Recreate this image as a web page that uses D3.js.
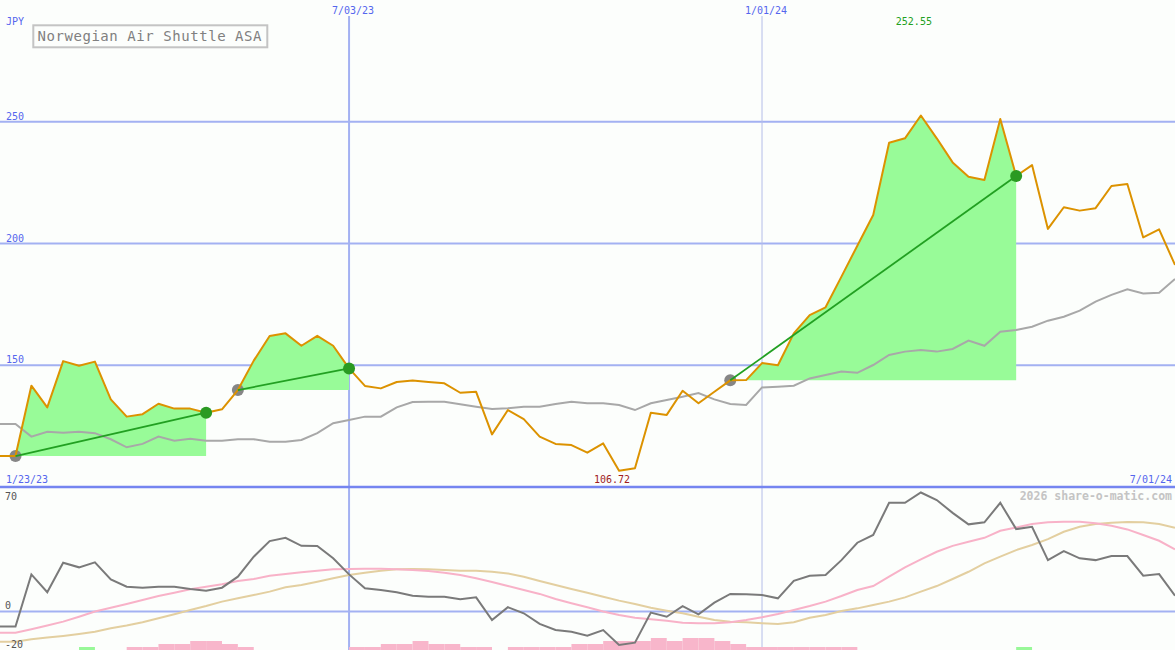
<!DOCTYPE html>
<html><head><meta charset="utf-8">
<script src="https://cdn.jsdelivr.net/npm/d3@7"></script>
<style>html,body{margin:0;padding:0;background:#fcfefc;}svg{display:block;}</style>
</head><body>
<svg id="c" width="1175" height="650"></svg>
<script>
const title = "Norwegian Air Shuttle ASA";
const currency = "JPY";
const price = [112.7,141.6,132.7,151.7,149.8,151.5,136.0,128.9,129.9,134.2,
132.2,132.2,130.5,131.9,139.8,151.9,162.0,163.1,158.0,162.1,
158.0,148.7,141.5,140.5,143.1,143.7,143.1,142.6,138.7,139.1,
121.6,131.6,127.9,120.7,117.7,117.2,114.1,117.9,106.72,107.7,
130.5,129.6,139.5,134.4,139.1,143.8,143.9,150.9,150.0,163.1,
170.6,173.8,186.4,199.1,211.7,241.4,243.2,252.55,243.2,233.3,
227.4,226.1,251.1,227.7,232.2,206.0,214.9,213.5,214.5,223.6,
224.4,202.5,205.8,191.2];
const avg = [125.9,120.7,122.7,122.3,122.7,122.1,119.6,116.3,117.7,120.7,
119.0,119.8,119.0,119.0,119.6,119.6,118.6,118.6,119.3,122.1,
126.2,127.5,128.9,128.9,132.7,134.9,135.0,135.0,134.0,133.0,
132.0,132.3,133.0,133.0,134.1,135.0,134.4,134.4,133.7,131.6,
134.4,135.7,137.1,138.6,136.0,134.1,133.7,140.9,141.2,141.6,
144.6,146.0,147.4,146.9,150.1,154.2,155.6,156.3,155.6,156.7,
160.1,158.0,163.8,164.5,165.8,168.3,169.9,172.4,176.1,178.9,
181.2,179.5,179.8,185.4];
const osc = [-9.2,22.6,11.7,29.7,26.9,29.9,19.6,15.1,14.5,15.1,
15.1,13.7,12.7,14.5,21.2,33.4,42.9,44.9,40.0,39.9,
32.4,22.6,14.1,13.1,11.7,9.6,9.0,9.0,7.4,8.6,
-5.2,2.6,-1.1,-7.6,-11.3,-12.3,-14.7,-11.3,-20.4,-19.0,
-0.7,-3.2,3.3,-1.7,5.4,10.7,10.5,10.0,8.0,18.7,
21.8,22.2,31.3,41.9,46.6,66.2,66.2,72.5,67.9,60.1,
53.1,54.3,66.2,50.2,51.6,31.3,36.8,32.4,31.3,33.8,
33.8,21.8,22.8,9.6];
const sigFast = [-12.9,-10.8,-8.6,-6.2,-3.2,0,2.3,4.6,7.0,9.4,
11.4,13.5,15.1,16.6,18.6,19.8,21.8,22.8,23.9,24.8,
25.7,25.9,26.0,26.0,25.7,25.3,24.6,23.6,22.2,20.2,
18.0,15.5,13.1,10.7,7.6,5.0,2.6,0,-2.1,-3.8,
-4.8,-5.6,-6.8,-7.2,-7.2,-6.6,-5.2,-3.5,-1.5,0.9,
3.3,6.0,9.4,13.1,15.5,21.2,26.9,31.8,36.4,40.0,
42.5,44.9,49.2,51.2,53.3,54.3,54.7,54.7,53.7,52.2,
50.0,46.6,43.1,37.9];
const sigSlow = [-18.4,-16.9,-15.9,-14.9,-13.7,-12.3,-10.2,-8.6,-6.6,-4.1,
-1.7,0.9,3.3,6.0,8.0,10.0,12.1,14.7,16.1,18.1,
20.2,22.2,23.6,24.8,25.7,25.9,25.7,25.3,24.8,24.8,
24.2,23.2,21.2,18.6,16.1,13.7,11.4,9.0,6.6,4.6,
2.3,0.5,-1.1,-3.2,-5.2,-6.2,-6.6,-7.2,-7.6,-6.6,
-3.8,-2.1,0.3,1.9,4.0,6.0,8.6,12.1,15.5,19.8,
24.2,29.3,33.4,37.4,40.5,44.1,48.6,51.6,53.3,54.1,
54.5,54.3,53.3,51.0];
const hist = [0,0,0,0,1,0,0,-1,-1,-2,
-2,-3,-3,-2,-1,0,0,0,0,0,
0,-1,-1,-2,-2,-3,-2,-2,-1,-1,
0,-1,-1,-1,-1,-2,-2,-3,-3,-3,
-4,-3,-4,-4,-3,-2,-1,-1,-1,-1,
-1,-1,-1,0,0,0,0,0,0,0,
0,0,0,1,0,0,0,0,0,0,
0,0,0,0];
const trades = [{buy:0, sell:12},{buy:14, sell:21},{buy:45, sell:63}];
const priceGrid = [150, 200, 250];
const topTickIdx = [21, 47];
const topTickLabels = ["7/03/23", "1/01/24"];
const bottomTickLabels = ["1/23/23", "7/01/24"];
const oscTicks = [70, 0, -20];
const copyright = "2026 share-o-matic.com";

const W = 1175, H = 650;
const svg = d3.select("#c");
const n = price.length;
const x = d3.scaleLinear().domain([0, n - 1]).range([15.5, W]);
const yP = d3.scaleLinear().domain([100, 300]).range([487, 0]);
const yO = d3.scaleLinear().domain([-20, 70]).range([644.3, 496.6]);
const yH = d3.scaleLinear().domain([0, 4]).range([H, H - 12]);
const mono = "'DejaVu Sans Mono', 'Liberation Mono', monospace";
const gridC = "#a3b1f2", labC = "#5566ee";

// lead-in from the left edge to the first point
function withLead(arr) {
  const pts = arr.map((v, i) => [i, v]);
  return [[x.invert(0), arr[0]]].concat(pts);
}

// grids
svg.selectAll(".hg").data(priceGrid).join("line")
  .attr("x1", 0).attr("x2", W).attr("y1", d => yP(d)).attr("y2", d => yP(d))
  .attr("stroke", gridC).attr("stroke-width", 2);
svg.append("line").attr("x1", 0).attr("x2", W).attr("y1", yO(0)).attr("y2", yO(0))
  .attr("stroke", gridC).attr("stroke-width", 2);
svg.selectAll(".vg").data(topTickIdx).join("line")
  .attr("x1", d => x(d)).attr("x2", d => x(d)).attr("y1", 16).attr("y2", H)
  .attr("stroke", (d, i) => i === 0 ? gridC : "#b4bde8")
  .attr("stroke-width", (d, i) => i === 0 ? 2 : 1);
svg.append("line").attr("x1", 0).attr("x2", W).attr("y1", yP(100)).attr("y2", yP(100))
  .attr("stroke", "#7585f0").attr("stroke-width", 2.5);

// fills for trades
trades.forEach(t => {
  const seg = d3.range(t.buy, t.sell + 1);
  const base = price[t.buy];
  svg.append("path").datum(seg)
    .attr("d", d3.area().x(i => x(i)).y0(yP(base)).y1(i => yP(price[i])))
    .attr("fill", "#98fb98");
});

// price panel lines
const lineP = d3.line().x(d => x(d[0])).y(d => yP(d[1]));
svg.append("path").datum(withLead(avg)).attr("d", lineP)
  .attr("fill", "none").attr("stroke", "#a8a8a8").attr("stroke-width", 2);
svg.selectAll(".bd").data(trades).join("circle")
  .attr("cx", d => x(d.buy)).attr("cy", d => yP(price[d.buy])).attr("r", 6)
  .attr("fill", "#868686");
svg.append("path").datum(withLead(price)).attr("d", lineP)
  .attr("fill", "none").attr("stroke", "#dc9200").attr("stroke-width", 2)
  .attr("stroke-linejoin", "round");
svg.selectAll(".tl").data(trades).join("line")
  .attr("x1", d => x(d.buy)).attr("y1", d => yP(price[d.buy]))
  .attr("x2", d => x(d.sell)).attr("y2", d => yP(price[d.sell]))
  .attr("stroke", "#22a022").attr("stroke-width", 1.8);
svg.selectAll(".sd").data(trades).join("circle")
  .attr("cx", d => x(d.sell)).attr("cy", d => yP(price[d.sell])).attr("r", 6)
  .attr("fill", "#2a9a22");

// oscillator panel
svg.selectAll(".hb").data(hist.map((v, i) => [i, v]).filter(d => d[1] !== 0)).join("rect")
  .attr("x", d => x(d[0])).attr("width", d => x(d[0] + 1) - x(d[0]))
  .attr("y", d => yH(Math.abs(d[1]))).attr("height", d => H - yH(Math.abs(d[1])))
  .attr("fill", d => d[1] > 0 ? "#98f898" : "#f8b6cb");
const lineO = d3.line().x(d => x(d[0])).y(d => yO(d[1]));
svg.append("path").datum(withLead(sigSlow)).attr("d", lineO)
  .attr("fill", "none").attr("stroke", "#e3cfa0").attr("stroke-width", 2);
svg.append("path").datum(withLead(sigFast)).attr("d", lineO)
  .attr("fill", "none").attr("stroke", "#f8b2c8").attr("stroke-width", 2);
svg.append("path").datum(withLead(osc)).attr("d", lineO)
  .attr("fill", "none").attr("stroke", "#7a7a7a").attr("stroke-width", 2);

// labels
const txt = (s, xx, yy, col, anchor, size) => svg.append("text").text(s)
  .attr("x", xx).attr("y", yy).attr("fill", col).attr("text-anchor", anchor || "start")
  .attr("font-family", mono).attr("font-size", size || 10);
txt(currency, 6, 25, labC);
priceGrid.forEach(v => txt(String(v), 6, yP(v) - 2, labC));
topTickIdx.forEach((d, i) => txt(topTickLabels[i], x(d) + 4, 14, labC, "middle"));
txt(bottomTickLabels[0], 6, 483, labC);
txt(bottomTickLabels[1], 1172, 483, labC, "end");
const iMax = d3.maxIndex(price), iMin = d3.minIndex(price);
txt(d3.format(".2f")(price[iMax]), x(iMax) - 7, 25, "#22a022", "middle");
txt(d3.format(".2f")(price[iMin]), x(iMin) - 7, 483, "#a01c1c", "middle");
oscTicks.forEach(v => txt(String(v), 5, v === 0 ? yO(v) - 2 : yO(v) + 3.5, "#555"));
txt(copyright, 1172, 500, "#c4c4c4", "end", 11.5).attr("font-weight", "bold");

// title box
svg.append("rect").attr("x", 33.3).attr("y", 25.3).attr("width", 234).attr("height", 22)
  .attr("fill", "#fcfefc").attr("stroke", "#c4c4c4").attr("stroke-width", 2);
txt(title, 37.5, 41, "#808080", "start", 14).attr("textLength", 224).attr("lengthAdjust", "spacing");
</script>
</body></html>
